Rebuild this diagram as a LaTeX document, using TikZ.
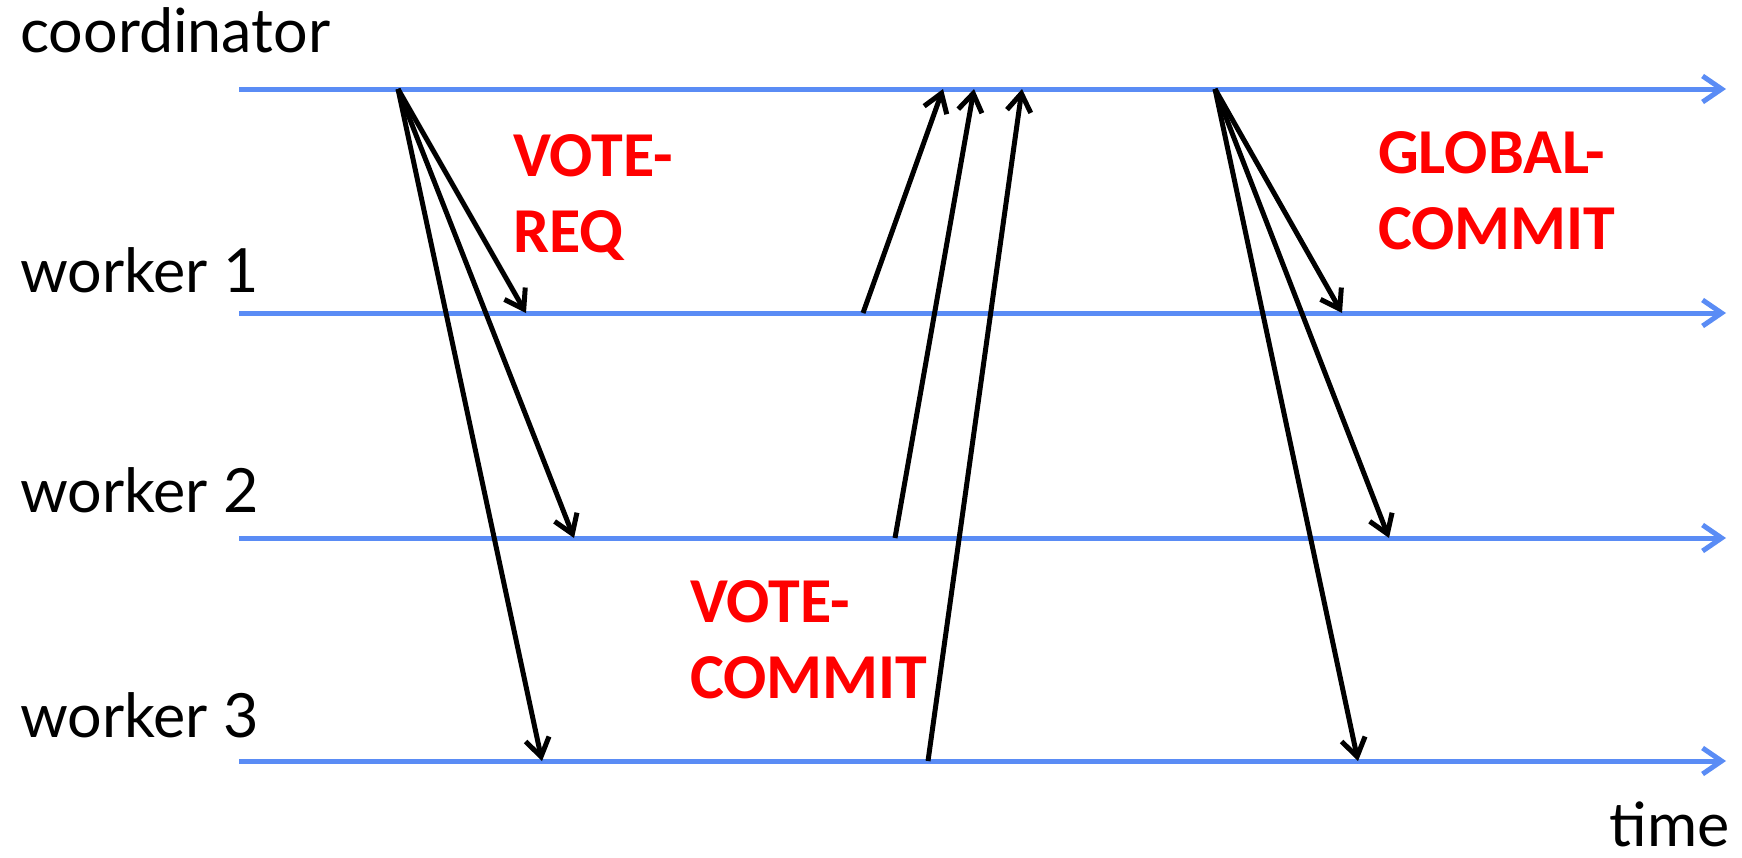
\documentclass[tikz,border=0pt]{standalone}
\usepackage{fontspec}
\setmainfont{Lato}
\newfontfamily\redfont{Carlito}
\usetikzlibrary{arrows.meta}
\definecolor{lineblue}{RGB}{90,140,245}
\definecolor{msgred}{RGB}{255,0,0}
\tikzset{
  timeline/.style={draw=lineblue, line width=5pt, -{Straight Barb[length=19pt,width=26pt,line width=5pt]}},
  msg/.style={draw=black, line width=5pt, -{Straight Barb[length=18pt,width=24pt,line width=5pt]}},
  lbl/.style={anchor=base west, inner sep=0pt, font=\fontsize{61}{72}\selectfont},
  redlbl/.style={anchor=north west, inner sep=0pt, align=left, text=msgred, font=\redfont\bfseries\fontsize{64}{76}\selectfont},
}
\begin{document}
\begin{tikzpicture}[x=1pt,y=-1pt]
\useasboundingbox (0,0) rectangle (1742,857);
% process labels
\node[lbl] (lc) at (20,52) {coordinator};
\node[lbl] (l1) at (20,292) {worker 1};
\node[lbl] (l2) at (20,512) {worker 2};
\node[lbl] (l3) at (20,737) {worker 3};
\node[lbl, anchor=base east] (lt) at (1730,846) {time};
% timelines
\coordinate (c0) at (239,89);  \coordinate (c1) at (1726,89);
\coordinate (w10) at (239,313); \coordinate (w11) at (1726,313);
\coordinate (w20) at (239,538); \coordinate (w21) at (1726,538);
\coordinate (w30) at (239,761); \coordinate (w31) at (1726,761);
\draw[timeline] (c0) -- (c1);
\draw[timeline] (w10) -- (w11);
\draw[timeline] (w20) -- (w21);
\draw[timeline] (w30) -- (w31);
% vote request
\coordinate (req) at (398,89);
\coordinate (req1) at (526,313);
\coordinate (req2) at (574,538);
\coordinate (req3) at (542,761);
\draw[msg] (req) -- (req1);
\draw[msg] (req) -- (req2);
\draw[msg] (req) -- (req3);
% votes
\coordinate (v1s) at (863,313); \coordinate (v1e) at (943,89);
\coordinate (v2s) at (895,538); \coordinate (v2e) at (974,89);
\coordinate (v3s) at (928,761); \coordinate (v3e) at (1022,89);
\draw[msg] (v1s) -- (v1e);
\draw[msg] (v2s) -- (v2e);
\draw[msg] (v3s) -- (v3e);
% global commit
\coordinate (gc) at (1215,89);
\coordinate (gc1) at (1342,313);
\coordinate (gc2) at (1389,538);
\coordinate (gc3) at (1358,761);
\draw[msg] (gc) -- (gc1);
\draw[msg] (gc) -- (gc2);
\draw[msg] (gc) -- (gc3);
% message labels
\node[redlbl] (tr) at (513,134) {VOTE-\\REQ};
\node[redlbl] (tv) at (690,580) {VOTE-\\COMMIT};
\node[redlbl] (tg) at (1378,131) {GLOBAL-\\COMMIT};
\end{tikzpicture}
\end{document}
